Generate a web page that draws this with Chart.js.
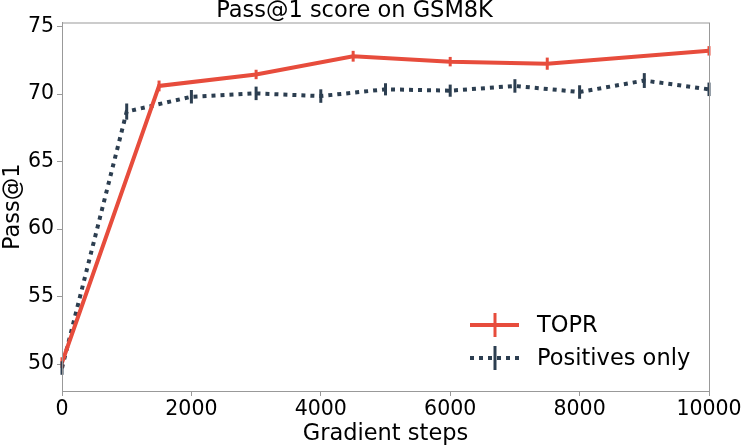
<!DOCTYPE html>
<html>
<head>
<meta charset="utf-8">
<script src="https://cdn.jsdelivr.net/npm/chart.js@4.4.0/dist/chart.umd.min.js"></script>
<style>
  html, body { margin: 0; padding: 0; background: #fff; }
  #wrap { width: 750px; height: 447px; }
</style>
</head>
<body>
<div id="wrap"><canvas id="myChart" width="750" height="447"></canvas></div>
<script>
const topr_steps = [0, 1500, 3000, 4500, 6000, 7500, 10000];
const topr_scores = [50.1, 70.6, 71.45, 72.8, 72.4, 72.25, 73.2];
const topr_err = [0.4, 0.4, 0.35, 0.4, 0.35, 0.45, 0.35];

const pos_steps = [0, 1000, 2000, 3000, 4000, 5000, 6000, 7000, 8000, 9000, 10000];
const pos_scores = [49.7, 68.7, 69.8, 70.05, 69.85, 70.35, 70.25, 70.6, 70.15, 71.0, 70.35];
const pos_err = [0.5, 0.6, 0.5, 0.5, 0.5, 0.45, 0.45, 0.5, 0.5, 0.55, 0.5];

const y_ticks = [50, 55, 60, 65, 70, 75];
const x_ticks = [0, 2000, 4000, 6000, 8000, 10000];

const red = "#e74c3c";
const dark = "#2c3e50";
const font = "'DejaVu Sans', sans-serif";

function toPoints(xs, ys) {
    let pts = [];
    for (let i = 0; i < xs.length; i++) pts.push({ x: xs[i], y: ys[i] });
    return pts;
}

// error bars + frame + legend drawn on top
const extras = {
    id: 'extras',
    afterDatasetsDraw(chart) {
        const ctx = chart.ctx;
        const ys = chart.scales.y;
        const errs = [topr_err, pos_err];
        chart.data.datasets.forEach((ds, di) => {
            const meta = chart.getDatasetMeta(di);
            ctx.save();
            ctx.strokeStyle = ds.borderColor;
            ctx.lineWidth = 3;
            meta.data.forEach((pt, i) => {
                const v = ds.data[i].y;
                const e = errs[di][i];
                ctx.beginPath();
                ctx.moveTo(pt.x, ys.getPixelForValue(v - e));
                ctx.lineTo(pt.x, ys.getPixelForValue(v + e));
                ctx.stroke();
            });
            ctx.restore();
        });

        // frame
        const a = chart.chartArea;
        ctx.save();
        ctx.strokeStyle = "#999";
        ctx.lineWidth = 1;
        ctx.strokeRect(a.left + 0.5, a.top + 0.5, a.right - a.left, a.bottom - a.top);
        ctx.restore();

        // legend
        const items = [
            { label: "TOPR", color: red, dash: [], y: 325 },
            { label: "Positives only", color: dark, dash: [4, 5], y: 358 }
        ];
        ctx.save();
        items.forEach(it => {
            ctx.strokeStyle = it.color;
            ctx.lineWidth = 4;
            ctx.setLineDash(it.dash);
            ctx.beginPath();
            ctx.moveTo(470, it.y);
            ctx.lineTo(519, it.y);
            ctx.stroke();
            ctx.setLineDash([]);
            ctx.lineWidth = 3;
            ctx.beginPath();
            ctx.moveTo(495, it.y - 12);
            ctx.lineTo(495, it.y + 12);
            ctx.stroke();
            ctx.fillStyle = "#000";
            ctx.font = "22.5px " + font;
            ctx.textBaseline = "middle";
            ctx.fillText(it.label, 537, it.y + 1);
        });
        ctx.restore();
    }
};

const ctx = document.getElementById("myChart").getContext("2d");
const myChart = new Chart(ctx, {
    type: 'line',
    data: {
        datasets: [{
            label: "TOPR",
            data: toPoints(topr_steps, topr_scores),
            borderColor: red,
            borderWidth: 4,
            pointRadius: 0,
            tension: 0,
            fill: false
        }, {
            label: "Positives only",
            data: toPoints(pos_steps, pos_scores),
            borderColor: dark,
            borderWidth: 4,
            borderDash: [4, 5],
            pointRadius: 0,
            tension: 0,
            fill: false
        }]
    },
    options: {
        responsive: false,
        animation: false,
        layout: { padding: { left: 0, right: 41, top: 0, bottom: 0 } },
        plugins: {
            legend: { display: false },
            tooltip: { enabled: false },
            title: {
                display: true,
                text: "Pass@1 score on GSM8K",
                color: "#000",
                font: { family: font, size: 22.5, weight: 'normal', lineHeight: 1 },
                padding: { top: 0, bottom: 0 }
            }
        },
        scales: {
            x: {
                type: 'linear',
                min: 0,
                max: 10000,
                afterBuildTicks(s) { s.ticks = x_ticks.map(v => ({ value: v })); },
                afterFit(s) { s.height = 56; },
                ticks: {
                    color: "#000",
                    font: { family: font, size: 20.5 },
                    padding: 1,
                    maxRotation: 0,
                    callback: v => String(v)
                },
                grid: { drawOnChartArea: false, tickLength: 5, color: "#999" },
                border: { color: "#999" },
                title: {
                    display: true,
                    text: "Gradient steps",
                    color: "#000",
                    font: { family: font, size: 22.5, lineHeight: 1 },
                    padding: { top: 0, bottom: 2 }
                }
            },
            y: {
                min: 48,
                max: 75.3,
                afterBuildTicks(s) { s.ticks = y_ticks.map(v => ({ value: v })); },
                afterFit(s) { s.width = 62; },
                ticks: {
                    color: "#000",
                    font: { family: font, size: 20.5 },
                    padding: 3,
                    callback: v => String(v)
                },
                grid: { drawOnChartArea: false, tickLength: 5, color: "#999" },
                border: { color: "#999" },
                title: {
                    display: true,
                    text: "Pass@1",
                    color: "#000",
                    font: { family: font, size: 22.5, lineHeight: 1 },
                    padding: { top: 2, bottom: 0 }
                }
            }
        }
    },
    plugins: [extras]
});
</script>
</body>
</html>
